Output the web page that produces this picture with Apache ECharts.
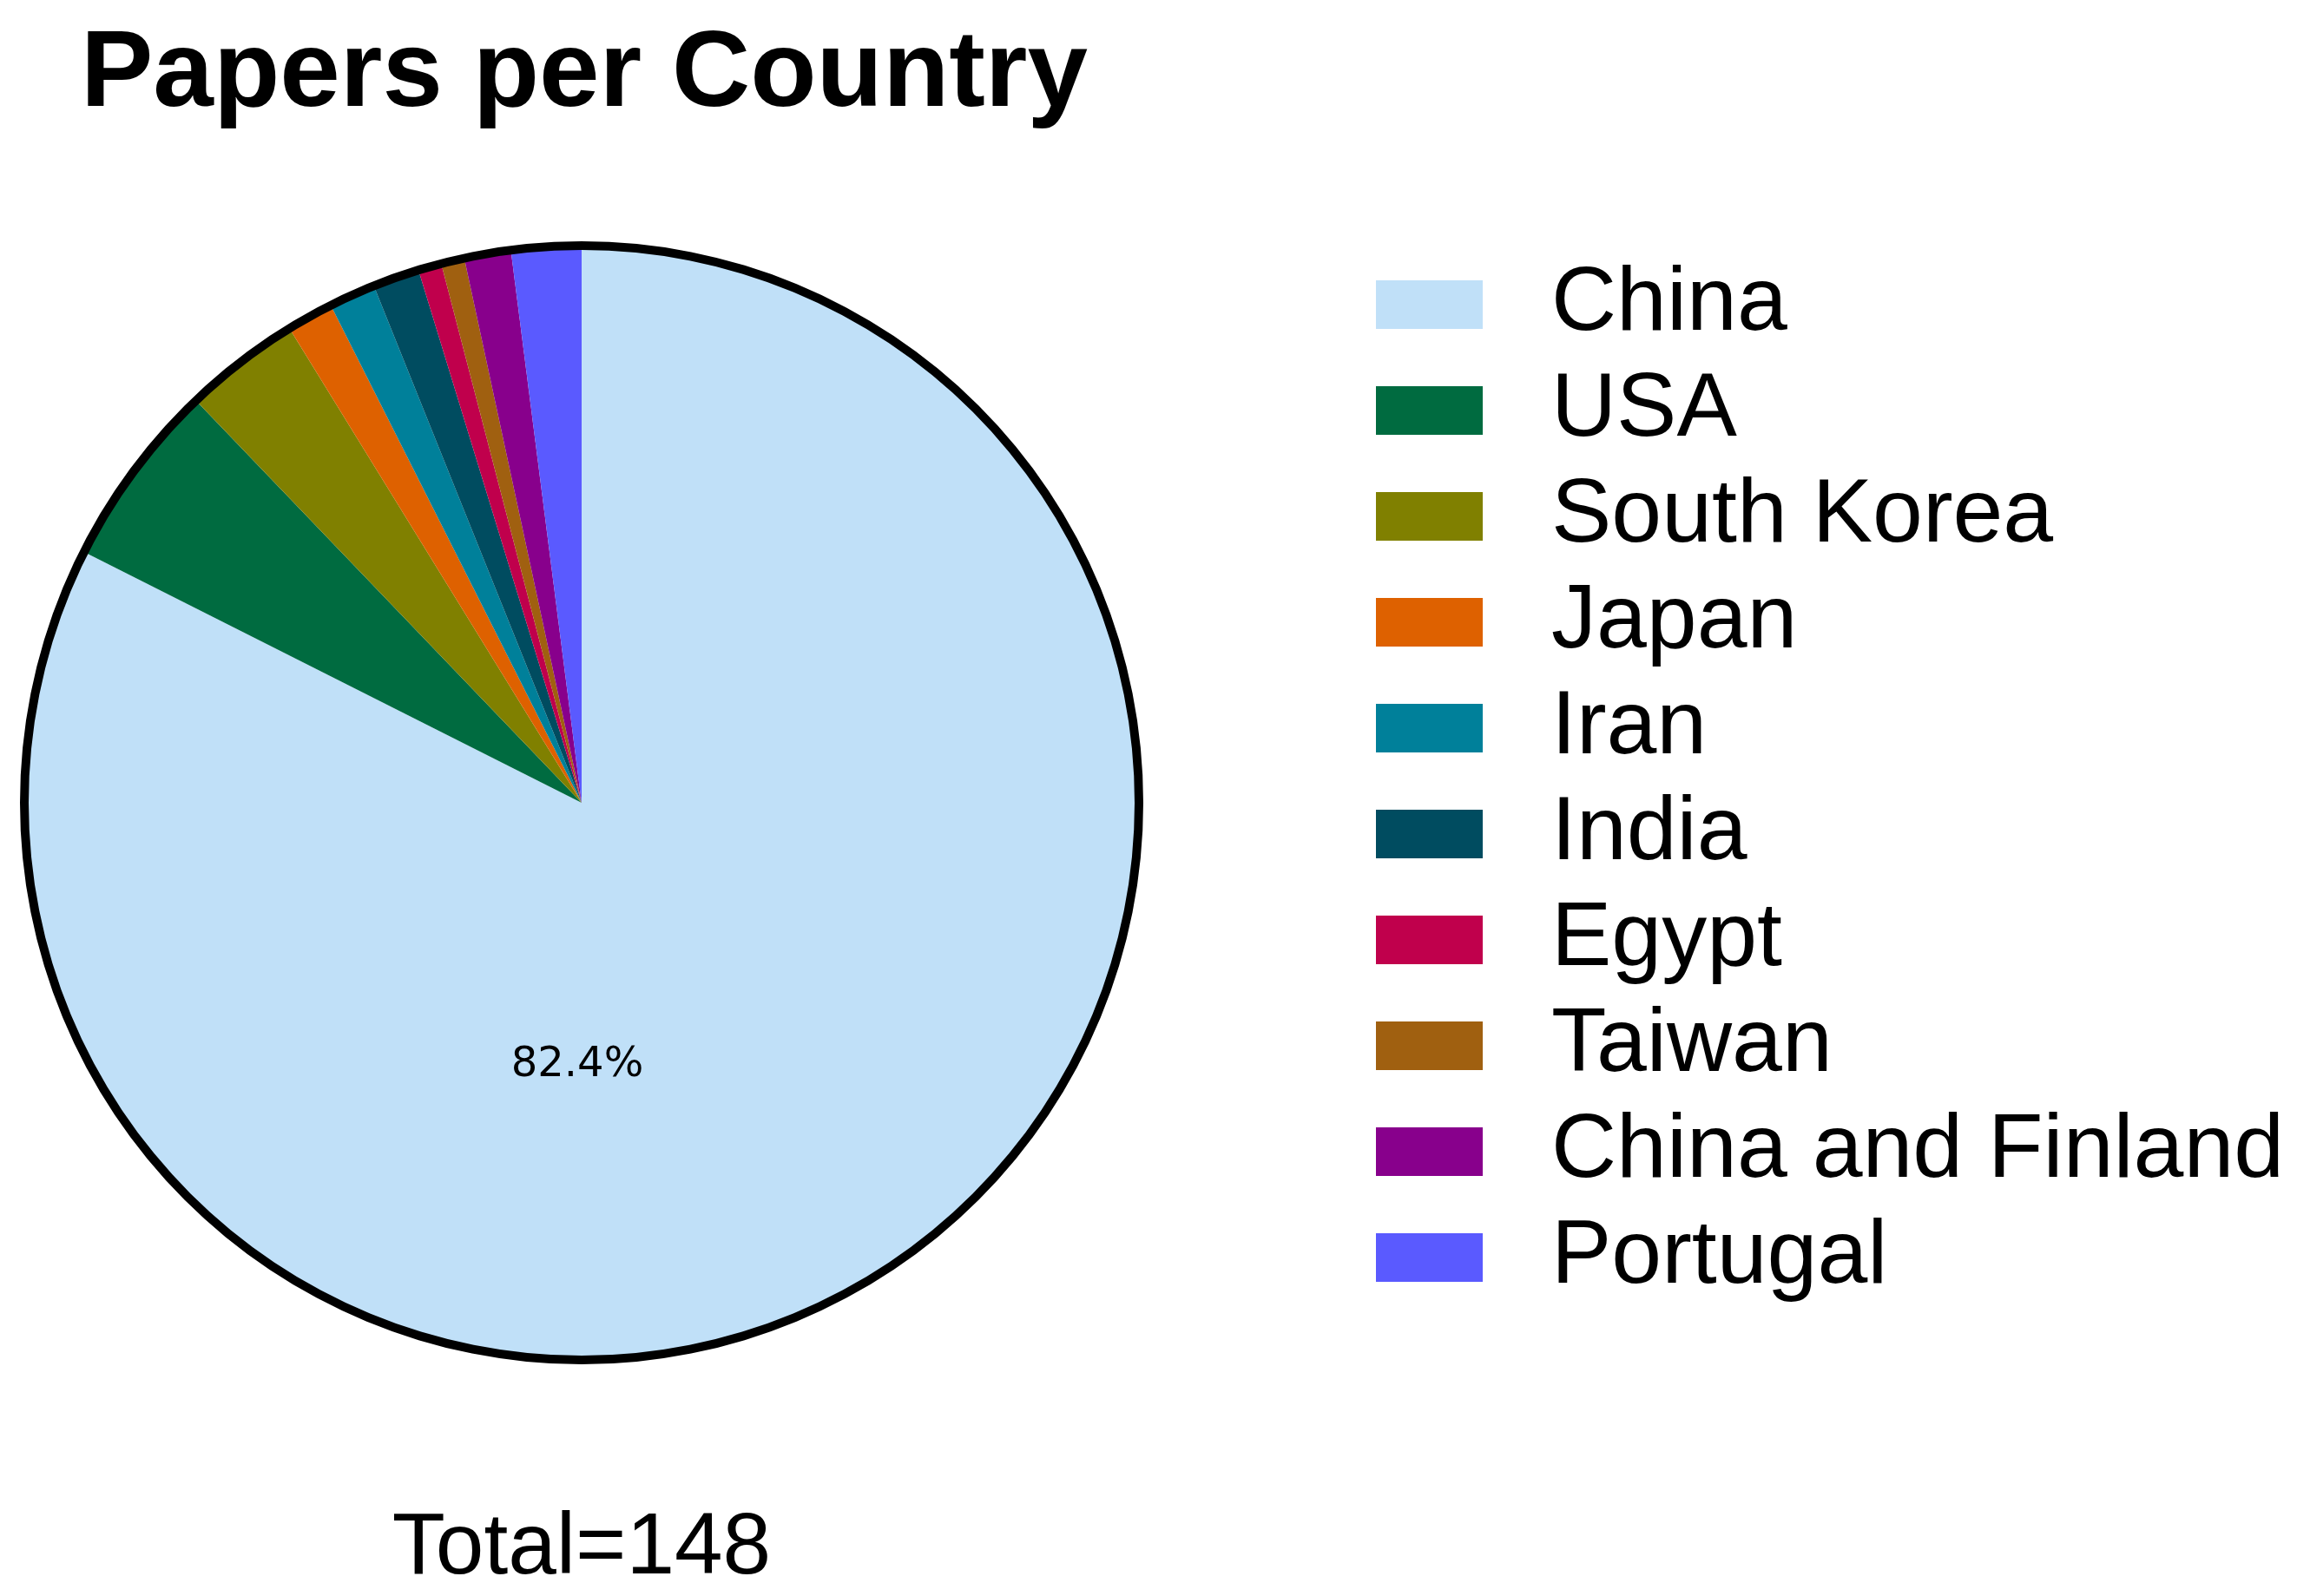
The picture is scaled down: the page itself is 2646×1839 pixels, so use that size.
<!DOCTYPE html>
<html>
<head>
<meta charset="utf-8">
<script src="https://cdn.jsdelivr.net/npm/echarts@6/dist/echarts.min.js"></script>
<style>html,body{margin:0;background:#fff}#main{width:2646px;height:1839px}</style>
</head>
<body>
<div id="main"></div>
<script>
var countries = ['China', 'USA', 'South Korea', 'Japan', 'Iran', 'India', 'Egypt', 'Taiwan', 'China and Finland', 'Portugal'];
var papers = [122, 8, 5, 2, 2, 2, 1, 1, 2, 3];
var colors = ['#c0e0f8', '#006b40', '#808000', '#de6100', '#00809a', '#004c60', '#c0004c', '#a06010', '#88008c', '#5a5aff'];

var total = papers.reduce(function (a, b) { return a + b; }, 0);
var chinaPct = (papers[0] / total * 100).toFixed(1) + '%';

var myChart = echarts.init(document.getElementById('main'));
var option = {
    color: colors,
    title: {
        text: 'Papers per Country',
        left: 88, top: 20,
        textStyle: { fontFamily: 'Liberation Sans', fontWeight: 'bold', fontSize: 125, color: '#000' }
    },
    legend: {
        orient: 'vertical',
        left: 1580, top: 294,
        itemWidth: 123, itemHeight: 56, itemGap: 18,
        icon: 'rect',
        textStyle: { fontFamily: 'Liberation Sans', fontSize: 104, color: '#000', padding: [0, 0, 0, 74] },
        data: countries
    },
    graphic: [
        { type: 'text', x: 665, y: 1228, z: 100, style: { text: chinaPct, fontFamily: 'DejaVu Sans', fontSize: 48, fill: '#000', align: 'center', verticalAlign: 'middle' } },
        { type: 'text', x: 670, y: 1785, z: 100, style: { text: 'Total=' + total, fontFamily: 'Liberation Sans', fontSize: 100, fill: '#000', align: 'center', verticalAlign: 'middle' } }
    ],
    series: [{
        type: 'pie',
        center: [670, 925],
        radius: 638,
        startAngle: 90,
        clockwise: true,
        label: { show: false },
        labelLine: { show: false },
        silent: true,
        data: countries.map(function (c, i) { return { name: c, value: papers[i] }; })
    }, {
        type: 'pie',
        center: [670, 925],
        radius: [637, 647],
        silent: true,
        label: { show: false },
        itemStyle: { color: '#000' },
        data: [1],
        legendHoverLink: false
    }]
};
myChart.setOption(option);
</script>
</body>
</html>
